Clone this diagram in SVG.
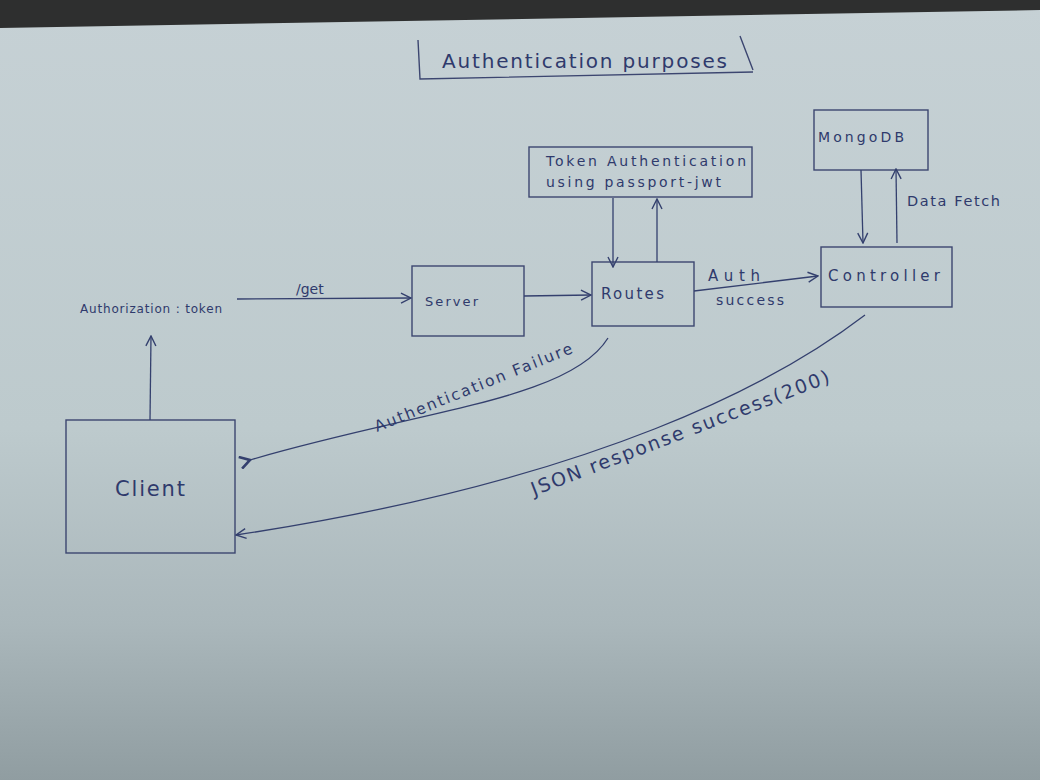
<svg xmlns="http://www.w3.org/2000/svg" width="1040" height="780" viewBox="0 0 1040 780">
<defs>
<linearGradient id="paper" x1="0" y1="0" x2="0" y2="1">
<stop offset="0" stop-color="#c6d1d5"/>
<stop offset="0.55" stop-color="#bdcacd"/>
<stop offset="0.8" stop-color="#aab7bb"/>
<stop offset="1" stop-color="#909da1"/>
</linearGradient>
<marker id="ah" viewBox="0 0 12 12" refX="11" refY="6" markerWidth="12" markerHeight="12" markerUnits="userSpaceOnUse" orient="auto">
<path d="M1,1 L11,6 L1,11" fill="none" stroke="#34406e" stroke-width="1.4"/>
</marker>
<marker id="ahb" viewBox="0 0 14 14" refX="2" refY="7" markerWidth="14" markerHeight="14" markerUnits="userSpaceOnUse" orient="auto">
<path d="M12,1 L2,7 L12,13" fill="none" stroke="#34406e" stroke-width="2.6"/>
</marker>
</defs>
<style>
.box{fill:none;stroke:#3c4670;stroke-width:1.4}
.ln{fill:none;stroke:#34406e;stroke-width:1.3}
.t{font-family:"DejaVu Sans",sans-serif;fill:#2f3a6c;}
</style>
<rect width="1040" height="780" fill="url(#paper)"/>
<polygon points="0,0 1040,0 1040,10 0,28" fill="#2e2f2f"/>
<g id="title">
<path class="box" d="M418,40 L420,79 L753,72 M740,36 L753,70"/>
<text class="t" x="442" y="68" font-size="20" textLength="285" lengthAdjust="spacing">Authentication purposes</text>
</g>
<g id="token">
<rect class="box" x="529" y="147" width="223" height="50"/>
<text class="t" x="546" y="166" font-size="14" textLength="200" lengthAdjust="spacing">Token  Authentication</text>
<text class="t" x="546" y="187" font-size="14" textLength="175" lengthAdjust="spacing">using passport-jwt</text>
</g>
<g id="mongodb">
<rect class="box" x="814" y="110" width="114" height="60"/>
<text class="t" x="818" y="142" font-size="14" textLength="86" lengthAdjust="spacing">MongoDB</text>
</g>
<g id="controller">
<rect class="box" x="821" y="247" width="131" height="60"/>
<text class="t" x="828" y="281" font-size="15" textLength="112" lengthAdjust="spacing">Controller</text>
</g>
<g id="routes">
<rect class="box" x="592" y="262" width="102" height="64"/>
<text class="t" x="601" y="299" font-size="15" textLength="63" lengthAdjust="spacing">Routes</text>
</g>
<g id="server">
<rect class="box" x="412" y="266" width="112" height="70"/>
<text class="t" x="425" y="306" font-size="13" textLength="53" lengthAdjust="spacing">Server</text>
</g>
<g id="client">
<rect class="box" x="66" y="420" width="169" height="133"/>
<text class="t" x="115" y="496" font-size="21" textLength="70" lengthAdjust="spacing">Client</text>
</g>
<g id="authorization">
<text class="t" x="80" y="313" font-size="12" textLength="142" lengthAdjust="spacing">Authorization : token</text>
</g>
<g id="connectors">
<line class="ln" x1="237" y1="299" x2="411" y2="298" marker-end="url(#ah)"/>
<text class="t" x="296" y="294" font-size="14">/get</text>
<line class="ln" x1="524" y1="296" x2="591" y2="295" marker-end="url(#ah)"/>
<line class="ln" x1="694" y1="291" x2="818" y2="276" marker-end="url(#ah)"/>
<text class="t" x="708" y="281" font-size="15" textLength="52" lengthAdjust="spacing">Auth</text>
<text class="t" x="716" y="305" font-size="14" textLength="68" lengthAdjust="spacing">success</text>
<line class="ln" x1="613" y1="198" x2="613" y2="267" marker-end="url(#ah)"/>
<line class="ln" x1="657" y1="262" x2="657" y2="199" marker-end="url(#ah)"/>
<line class="ln" x1="861" y1="170" x2="863" y2="243" marker-end="url(#ah)"/>
<line class="ln" x1="897" y1="243" x2="896" y2="169" marker-end="url(#ah)"/>
<text class="t" x="907" y="206" font-size="14.5" textLength="93" lengthAdjust="spacing">Data Fetch</text>
<line class="ln" x1="150" y1="420" x2="151" y2="336" marker-end="url(#ah)"/>
<path class="ln" d="M608,338 C570,400 420,410 250,460" marker-end="url(#ahb)"/>
<text class="t" font-size="15.5" transform="translate(377,432) rotate(-22)" textLength="212" lengthAdjust="spacing">Authentication Failure</text>
<path class="ln" d="M865,315 C780,380 600,480 236,535" marker-end="url(#ah)"/>
<text class="t" font-size="19" transform="translate(534,496) rotate(-21)" textLength="318" lengthAdjust="spacing">JSON response success(200)</text>
</g>
</svg>
